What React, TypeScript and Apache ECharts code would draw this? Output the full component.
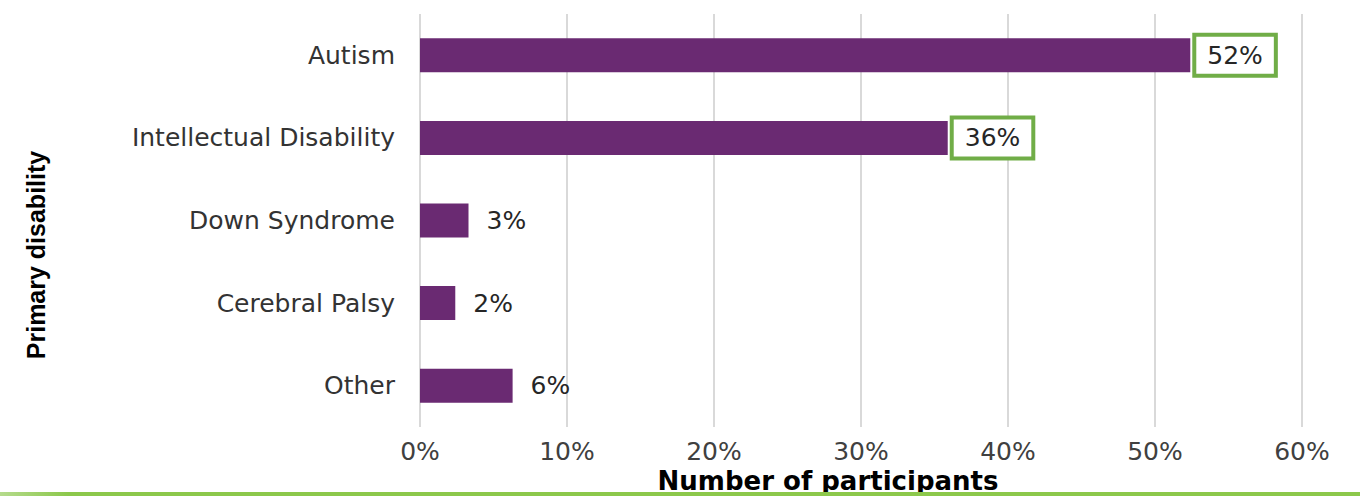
import React, { useEffect, useRef } from "react";
import * as echarts from "echarts";

const categories = ["Autism", "Intellectual Disability", "Down Syndrome", "Cerebral Palsy", "Other"];
const values = [52.4, 35.9, 3.3, 2.4, 6.3];
const highlighted = [true, true, false, false, false];
const xTicks = [0, 10, 20, 30, 40, 50, 60];
const xAxisTitle = "Number of participants";
const yAxisTitle = "Primary disability";

const BAR = "#6a2a72";
const GREEN = "#70ad47";
const FONT = "DejaVu Sans";

export default function App() {
  const ref = useRef<HTMLDivElement>(null);
  useEffect(() => {
    document.body.style.margin = "0";
    const chart = echarts.init(ref.current!, null, { renderer: "svg" });
    const data = values.map((v, i) => {
      if (highlighted[i]) {
        return {
          value: v,
          label: {
            distance: 6,
            backgroundColor: "#ffffff",
            borderColor: GREEN,
            borderWidth: 4,
            padding: [7, 11, 5, 11],
          },
        };
      }
      return { value: v };
    });
    chart.setOption({
      animation: false,
      grid: { left: 420, right: 58, top: 14, bottom: 69, containLabel: false },
      xAxis: {
        type: "value",
        min: xTicks[0],
        max: xTicks[xTicks.length - 1],
        interval: 10,
        axisLine: { show: false },
        axisTick: { show: false },
        splitLine: { show: true, lineStyle: { color: "#d9d9d9", width: 2 } },
        axisLabel: {
          formatter: (v: number) => `${v}%`,
          fontFamily: FONT,
          fontSize: 25,
          lineHeight: 20,
          color: "#404040",
          margin: 14,
        },
      },
      yAxis: {
        type: "category",
        data: categories,
        inverse: true,
        axisLine: { show: false },
        axisTick: { show: false },
        splitLine: { show: false },
        axisLabel: {
          fontFamily: FONT,
          fontSize: 25,
          color: "#333333",
          margin: 25,
        },
      },
      series: [
        {
          type: "bar",
          data,
          barWidth: 34,
          itemStyle: { color: BAR },
          label: {
            show: true,
            position: "right",
            distance: 18,
            formatter: (p: any) => `${Math.round(p.value)}%`,
            fontFamily: FONT,
            fontSize: 25,
            color: "#262626",
          },
        },
      ],
      graphic: [
        {
          type: "text",
          x: 828,
          y: 481,
          style: {
            text: xAxisTitle,
            fontFamily: FONT,
            fontWeight: "bold",
            fontSize: 26,
            lineHeight: 20,
            fill: "#000000",
            align: "center",
            verticalAlign: "middle",
          },
        },
        {
          type: "text",
          x: 36,
          y: 255,
          rotation: Math.PI / 2,
          style: {
            text: yAxisTitle,
            fontFamily: "Liberation Sans",
            fontWeight: "bold",
            fontSize: 25,
            fill: "#000000",
            align: "center",
            verticalAlign: "middle",
          },
        },
        {
          type: "rect",
          shape: { x: 0, y: 492, width: 1360, height: 4 },
          style: {
            fill: new echarts.graphic.LinearGradient(0, 0, 1, 0, [
              { offset: 0, color: "#b5db8c" },
              { offset: 0.05, color: "#8cc84b" },
              { offset: 1, color: "#8cc84b" },
            ]),
          },
        },
      ],
    });
    return () => chart.dispose();
  }, []);
  return <div ref={ref} style={{ width: 1360, height: 496 }} />;
}
